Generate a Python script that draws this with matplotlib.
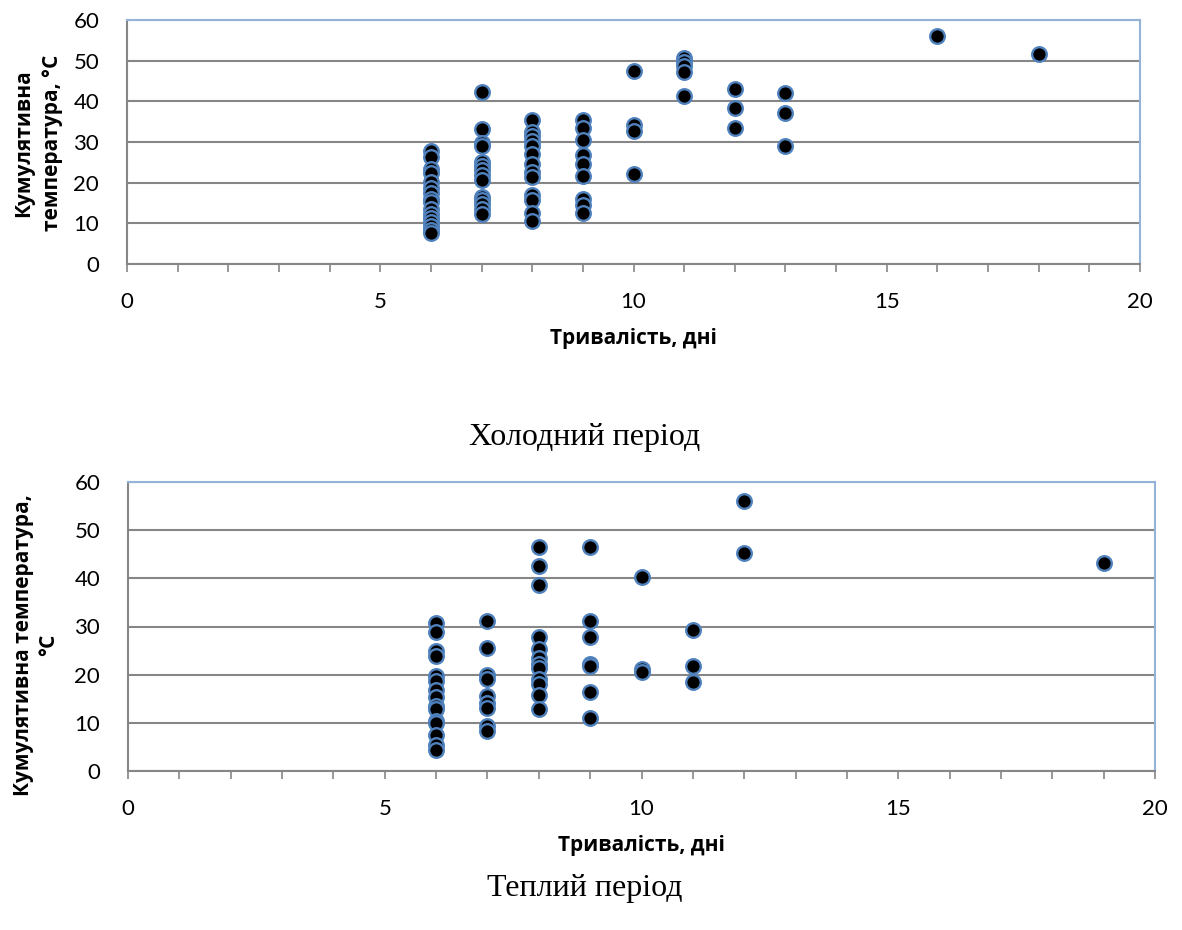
import numpy as np
import matplotlib.pyplot as plt
from matplotlib.ticker import MultipleLocator

# cold period: duration (days) and cumulative temperature
cold_days = [6]*16 + [7]*14 + [8]*13 + [9]*9 + [10]*4 + [11]*5 + [12]*3 + [13]*3 + [16, 18]
cold_temp = [27.7, 26.4, 23.4, 22.3, 20.2, 18.6, 17.4, 16.1, 15.3, 13.6, 12.4, 11.2, 10.3, 9.3, 8.3, 7.7,
             42.4, 33.1, 29.8, 28.9, 25.0, 24.0, 23.1, 21.9, 20.7, 16.5, 15.7, 14.7, 13.6, 12.4,
             35.4, 32.4, 31.4, 30.2, 28.9, 27.1, 24.6, 22.5, 21.5, 16.9, 15.7, 12.6, 10.6,
             35.4, 33.5, 30.6, 26.9, 24.5, 21.7, 16.0, 14.6, 12.6,
             47.4, 34.3, 32.6, 22.1,
             50.6, 49.6, 48.8, 47.3, 41.2,
             43.0, 38.4, 33.5,
             42.0, 37.2, 28.9,
             56.0, 51.7]

# warm period
warm_days = [6]*15 + [7]*9 + [8]*12 + [9]*7 + [10]*3 + [11]*3 + [12]*2 + [19]
warm_temp = [30.8, 28.8, 25.0, 23.8, 19.8, 18.6, 16.9, 15.3, 13.4, 12.9, 10.3, 10.0, 7.4, 5.3, 4.3,
             31.2, 25.5, 20.0, 19.0, 15.5, 14.1, 13.1, 9.3, 8.4,
             46.6, 42.6, 38.6, 27.8, 25.3, 23.4, 22.3, 21.4, 19.0, 18.1, 15.7, 12.9,
             46.6, 31.2, 27.9, 22.3, 21.9, 16.3, 11.0,
             40.2, 21.2, 20.6,
             29.2, 21.9, 18.4,
             56.1, 45.2,
             43.1]

xticks = [0, 5, 10, 15, 20]
yticks = [0, 10, 20, 30, 40, 50, 60]

W, H = 1182, 930
fig = plt.figure(figsize=(W/100, H/100), dpi=100)

grid_c = '#868686'
border_c = '#95B3D7'
tick_font = 'Lato'
lab_font = dict(fontfamily='Open Sans', fontweight='bold', fontsize=15)


def style(ax, days, temp):
    ax.scatter(days, temp, s=110, c='black', edgecolors='#4F81BD', linewidths=1.7, zorder=3)
    ax.set_xlim(0, 20)
    ax.set_ylim(0, 60)
    ax.set_xticks(xticks)
    ax.xaxis.set_minor_locator(MultipleLocator(1))
    ax.set_yticks(yticks)
    ax.yaxis.grid(True, color=grid_c, linewidth=1.5)
    ax.set_axisbelow(True)
    for s in ['left', 'bottom']:
        ax.spines[s].set_color(grid_c)
        ax.spines[s].set_linewidth(1.5)
    for s in ['top', 'right']:
        ax.spines[s].set_color(border_c)
        ax.spines[s].set_linewidth(1.5)
    ax.tick_params(axis='x', which='both', direction='out', length=6, width=1.2,
                   color=grid_c, pad=14, labelsize=16)
    ax.tick_params(axis='y', length=0, pad=20, labelsize=16)
    for lab in ax.get_xticklabels() + ax.get_yticklabels():
        lab.set_fontfamily(tick_font)


ax1 = fig.add_axes([127/W, 1 - 264/H, (1140-127)/W, (264-20)/H])
style(ax1, cold_days, cold_temp)
ax1.set_xlabel('Тривалість, дні', labelpad=12, **lab_font)
fig.text(38/W, 1 - 143/H, 'Кумулятивна\nтемпература, °С', rotation=90, ha='center', va='center',
         linespacing=1.45, **lab_font)
fig.text(585/W, 1 - 437/H, 'Холодний період', ha='center', va='center',
         fontfamily='Liberation Serif', fontsize=23)

ax2 = fig.add_axes([128/W, 1 - 771/H, (1155-128)/W, (771-482)/H])
style(ax2, warm_days, warm_temp)
ax2.set_xlabel('Тривалість, дні', labelpad=12, **lab_font)
fig.text(36/W, 1 - 645/H, 'Кумулятивна температура,\n°С', rotation=90, ha='center', va='center',
         linespacing=1.3, **lab_font)
fig.text(585/W, 1 - 888/H, 'Теплий період', ha='center', va='center',
         fontfamily='Liberation Serif', fontsize=23)

fig.savefig('out.png', dpi=100)
